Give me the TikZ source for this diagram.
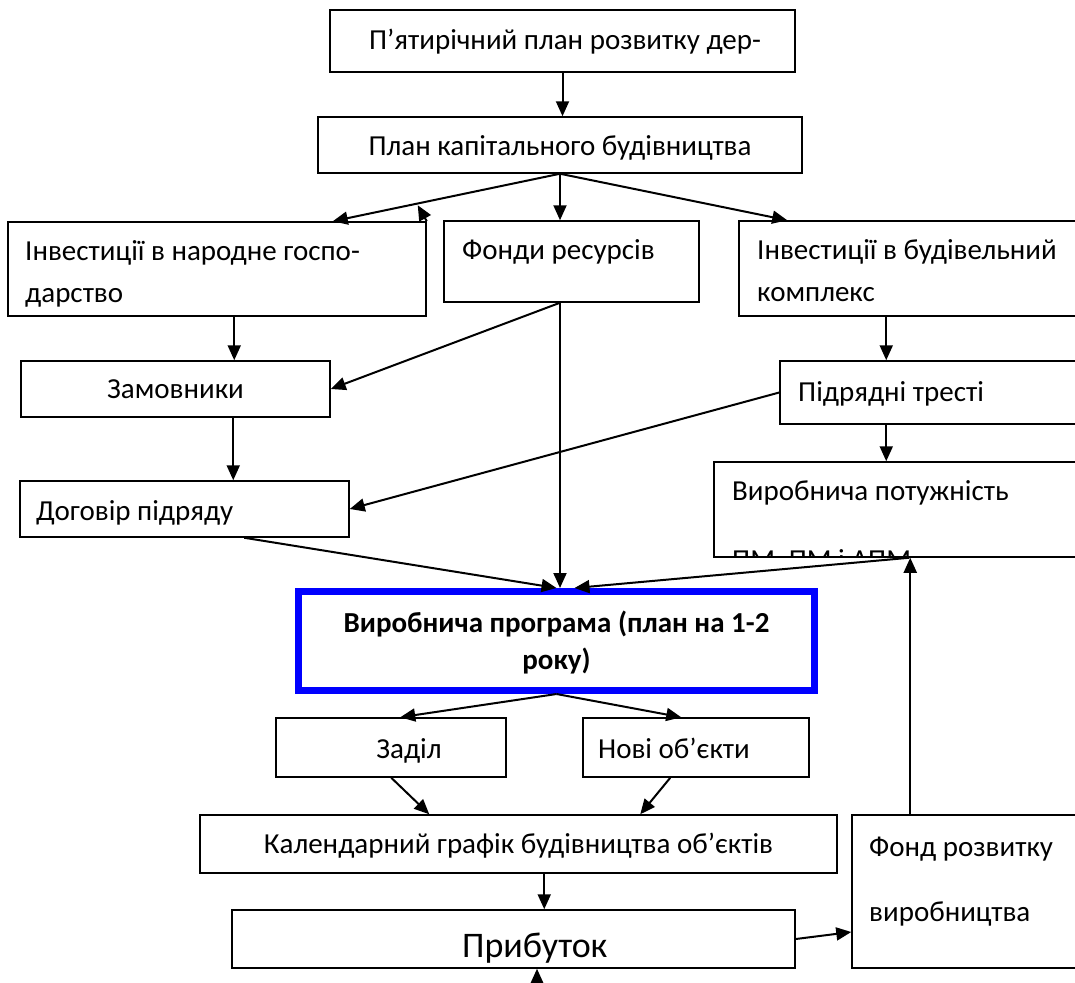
\documentclass[tikz,border=0pt]{standalone}
\usepackage{fontspec}
\setmainfont{Carlito}
\usetikzlibrary{arrows.meta,calc}
\newcommand\mkbox[6][]{%
  \node[box,#1,minimum width={(#5-#3)*1pt},minimum height={(#6-#4)*1pt}] (#2) at ({(#3+#5)/2},{(#4+#6)/2}) {};}
\begin{document}
\begin{tikzpicture}[x=1pt,y=-1pt,
  box/.style={draw,line width=1.5pt,inner sep=0pt,rectangle},
  arr/.style={line width=2pt,-{Triangle[length=15pt,width=13pt]}},
  txt/.style={inner sep=0pt,font=\fontsize{29}{34}\selectfont},
  btxt/.style={inner sep=0pt,font=\fontsize{29}{34}\selectfont\bfseries},
  bigtxt/.style={inner sep=0pt,font=\fontsize{36}{42}\selectfont},
]
\useasboundingbox (0,0) rectangle (1075,982);
\clip (0,0) rectangle (1075,982);

% boxes
\mkbox{b1}{330}{10}{795}{72}
\mkbox{b2}{318}{117}{802}{173}
\mkbox{b3}{8}{222}{426}{316}
\mkbox{b4}{444}{221}{699}{302}
\mkbox{b5}{739}{221}{1090}{316}
\mkbox{b6}{21}{361}{330}{417}
\mkbox{b7}{780}{361}{1090}{424}
\mkbox{b8}{20}{481}{349}{537}
\mkbox{b9}{714}{462}{1090}{557}
\node[draw=blue,line width=7pt,inner sep=0pt,minimum width=516pt,minimum height=99pt] (b10) at (556.5,641) {};
\mkbox{b11}{276}{718}{506}{777}
\mkbox{b12}{583}{718}{809}{777}
\mkbox{b13}{200}{815}{837}{873}
\mkbox{b14}{852}{815}{1090}{968}
\mkbox{b15}{232}{910}{795}{968}

% texts
\node[txt,anchor=base] (t1) at (565,50) {П’ятирічний план розвитку дер-};
\node[txt,anchor=base] (t2) at (560,155) {План капітального будівництва};
\node[txt,anchor=base west] (t3a) at (25,260) {Інвестиції в народне госпо-};
\node[txt,anchor=base west] (t3b) at (25,302) {дарство};
\node[txt,anchor=base west] (t4) at (462,259) {Фонди ресурсів};
\node[txt,anchor=base west] (t5a) at (757,259) {Інвестиції в будівельний};
\node[txt,anchor=base west] (t5b) at (757,301) {комплекс};
\node[txt,anchor=base] (t6) at (175.5,398) {Замовники};
\node[txt,anchor=base west] (t7) at (798,401) {Підрядні тресті};
\node[txt,anchor=base west] (t8) at (36,520) {Договір підряду};
\node[txt,anchor=base west] (t9a) at (732,500) {Виробнича потужність};
\begin{scope}
  \clip (714,462) rectangle (1100,557);
  \node[txt,anchor=base west] (t9b) at (732,569) {ПМ, ПМ і АПМ};
\end{scope}
\node[btxt,anchor=base] (t10a) at (556.5,632) {Виробнича програма (план на 1-2};
\node[btxt,anchor=base] (t10b) at (556.5,669) {року)};
\node[txt,anchor=base] (t11) at (409,758) {Заділ};
\node[txt,anchor=base west] (t12) at (598,758) {Нові об’єкти};
\node[txt,anchor=base] (t13) at (518.5,853) {Календарний графік будівництва об’єктів};
\node[txt,anchor=base west] (t14a) at (869,856) {Фонд розвитку};
\node[txt,anchor=base west] (t14b) at (869,921) {виробництва};
\node[bigtxt,anchor=base west] (t15) at (462,957) {Прибуток};

% connectors
\draw[arr] (b1.south) -- (b1.south |- b2.north);
\draw[arr] (b2.south) -- ([xshift=-94pt]b3.north east);
\draw[arr] (b3.north east) -- ++(-9,-16);
\draw[arr] (b2.south) -- (b2.south |- b4.north);
\draw[arr] (b2.south) -- ([xshift=49pt]b5.north west);
\draw[arr] ([xshift=227pt]b3.south west) -- ([xshift=227pt]b3.south west |- b6.north);
\coordinate (f) at ([xshift=-11.5pt]b4.south);
\draw[arr] (f) -- (b6.east);
\draw[arr] (f) -- (f |- b10.north);
\draw[arr] ([xshift=148pt]b5.south west) -- ([xshift=148pt]b5.south west |- b7.north);
\draw[arr] ([xshift=213pt]b6.south west) -- ([xshift=213pt]b6.south west |- b8.north);
\draw[arr] (b7.west) -- (b8.east);
\draw[arr] ([xshift=107pt]b7.south west) -- ([xshift=107pt]b7.south west |- b9.north);
\draw[arr] ([xshift=225pt]b8.south west) -- (b10.north);
\draw[arr] ([xshift=196pt]b9.south west) -- ([xshift=18pt]b10.north);
\draw[arr] ([xshift=59pt]b14.north west) -- ([xshift=59pt]b14.north west |- b9.south);
\draw[arr] (b10.south) -- ([xshift=125pt]b11.north west);
\draw[arr] (b10.south) -- ([xshift=99pt]b12.north west);
\draw[arr] ([xshift=116pt]b11.south west) -- ([xshift=230pt]b13.north west);
\draw[arr] ([xshift=88pt]b12.south west) -- ([xshift=441pt]b13.north west);
\draw[arr] ([xshift=345pt]b13.south west) -- ([xshift=345pt]b13.south west |- b15.north);
\draw[arr] (b15.east) -- ([yshift=-40.5pt]b14.west);
\coordinate (bot) at (537,1000);
\draw[arr] (bot) -- (bot |- b15.south);
\end{tikzpicture}
\end{document}
